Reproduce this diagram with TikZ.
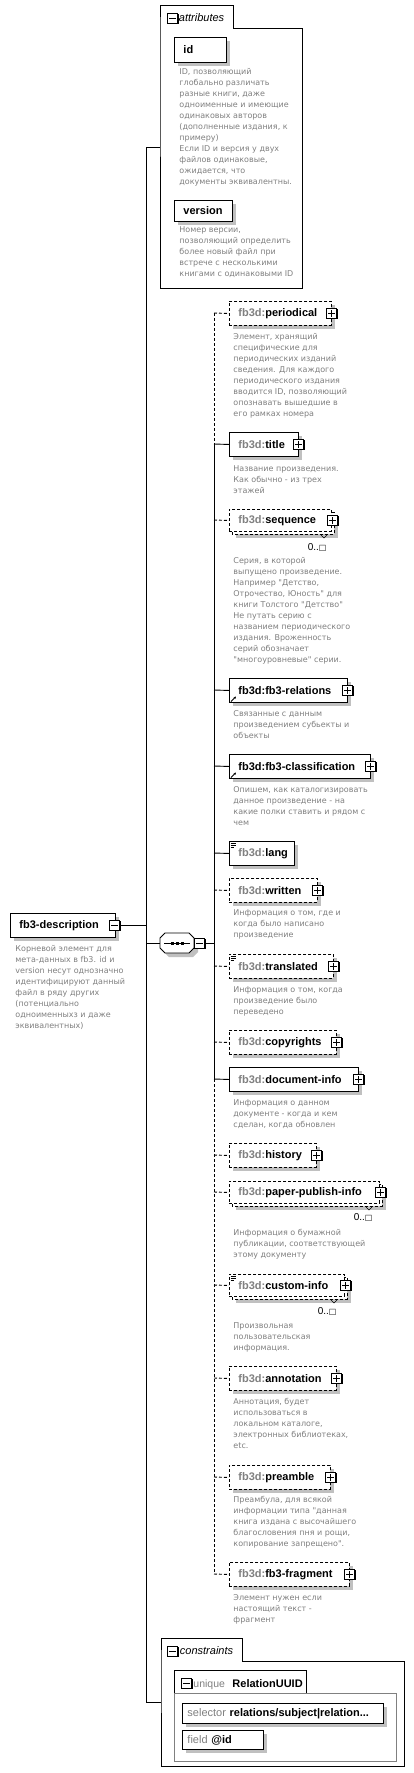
\documentclass[tikz,border=0pt]{standalone}
\usepackage{fontspec}
\setmainfont{Liberation Sans}
\newfontfamily\descfont{DejaVu Sans}
\usetikzlibrary{arrows.meta}
\definecolor{desccol}{RGB}{128,128,128}
\definecolor{shadcol}{RGB}{192,192,192}
\definecolor{precol}{RGB}{128,128,128}
\definecolor{grpcol}{RGB}{128,128,128}
\newcommand\pfx[2]{\mbox{\textcolor{precol}{#1}#2}}
\newcommand\infsym{{\descfont\fontsize{8}{8}\selectfont □}}
\tikzset{
  shadowed/.style={preaction={draw=none, fill=shadcol, transform canvas={shift={(4pt,-4pt)}}}},
  ebox/.style={draw, fill=white, line width=0.9pt, anchor=north west, minimum height=24pt,
    inner xsep=9pt, inner ysep=0pt, font=\fontsize{11}{13}\selectfont\bfseries},
  opt/.style={dash pattern=on 3pt off 2pt},
  pbox/.style={draw, fill=white, line width=0.9pt, minimum size=10pt, inner sep=0pt,
    preaction={fill=black, transform canvas={shift={(1pt,-1pt)}}},
    path picture={\draw[line width=0.9pt] (path picture bounding box.center) ++(-3.5pt,0pt) -- ++(7pt,0pt)
      (path picture bounding box.center) ++(0pt,-3.5pt) -- ++(0pt,7pt);}},
  mbox/.style={draw, fill=white, line width=0.9pt, minimum size=10pt, inner sep=0pt,
    preaction={fill=black, transform canvas={shift={(1pt,-1pt)}}},
    path picture={\draw[line width=0.9pt] (path picture bounding box.center) ++(-3.5pt,0pt) -- ++(7pt,0pt);}},
  desc/.style={font=\descfont\fontsize{8}{11}\selectfont, text=desccol, align=left, anchor=north west,
    inner sep=0pt, execute at begin node={\rule{0pt}{8pt}}},
  ital/.style={font=\fontsize{11}{13}\selectfont\itshape, inner sep=0pt, anchor=west},
  occ/.style={font=\fontsize{10}{12}\selectfont, inner sep=0pt, anchor=east},
  refic/.style={-{Stealth[length=2.5pt,width=2.5pt]}, line width=0.8pt},
  lstic/.style={line width=0.6pt},
  conn/.style={line width=0.9pt},
}
\begin{document}
\begin{tikzpicture}[x=1pt,y=-1pt,line width=0.9pt]
\useasboundingbox (0,0) rectangle (414,1773);
\fill[white] (0,0) rectangle (414,1773);

% ---------- attributes group ----------
\draw[fill=white, line width=0.8pt] (160,28) -- (160,5) -- (233,5) -- (233,28) -- (302,28) -- (302,288) -- (160,288) -- cycle;
\node[mbox] (attr-m) at (172.5,18) {};
\node[ital] (attr-t) at (178.5,17.5) {attributes};
\coordinate (attr-in) at (160,147);

\node[ebox, shadowed, text width=34pt, minimum height=25pt] (id) at (174,37) {id};
\node[desc] (id-d) at (179,68) {ID, позволяющий\\глобально различать\\разные книги, даже\\одноименные и имеющие\\одинаковых авторов\\(дополненные издания, к\\примеру)\\Если ID и версия у двух\\файлов одинаковые,\\ожидается, что\\документы эквивалентны.};
\node[ebox, shadowed, text width=40pt, minimum height=21pt] (version) at (174,200) {version};
\node[desc] (version-d) at (179,226) {Номер версии,\\позволяющий определить\\более новый файл при\\встрече с несколькими\\книгами с одинаковыми ID};

% ---------- root ----------
\node[ebox, shadowed, text width=87pt] (root) at (10,913) {fb3-description};
\node[mbox] (root-m) at (114.5,925) {};
\node[desc] (root-d) at (15,945) {Корневой элемент для\\мета-данных в fb3. id и\\version несут однозначно\\идентифицируют данный\\файл в ряду других\\(потенциально\\одноименныхз и даже\\эквивалентных)};

\coordinate (a-top) at (146,147);
\coordinate (a-root) at (146,925);
\coordinate (a-seq) at (146,943);
\coordinate (a-bot) at (146,1702);
\draw[conn] (a-top) -- (a-bot);
\draw[conn] (a-top) -- (attr-in);
\draw[conn] (root-m.east) -- (a-root);

% ---------- sequence compositor ----------
\fill[shadcol] (164,942) -- (169,937) -- (193,937) -- (198,942) -- (198,952) -- (193,957) -- (169,957) -- (164,952) -- cycle;
\draw[fill=white, line width=0.8pt] (160,938) -- (165,933) -- (189,933) -- (194,938) -- (194,948) -- (189,953) -- (165,953) -- (160,948) -- cycle;
\node[minimum width=34pt, minimum height=20pt, inner sep=0pt] (comp) at (177,943) {};
\draw[line width=0.8pt] (164,943) -- (190,943);
\fill (170.5,941.5) rectangle (173.5,944.5);
\fill (175.5,941.5) rectangle (178.5,944.5);
\fill (180.5,941.5) rectangle (183.5,944.5);
\node[mbox] (comp-m) at (199.5,943) {};
\draw[conn] (a-seq) -- (comp.west);
\coordinate (t-seq) at (214,943);
\draw[conn] (comp-m.east) -- (t-seq);

% ---------- trunk coordinates ----------
\coordinate (t-per) at (214,313);
\coordinate (t-tit) at (214,444);
\coordinate (t-sq) at (214,520);
\coordinate (t-rel) at (214,690);
\coordinate (t-cls) at (214,766);
\coordinate (t-lng) at (214,853);
\coordinate (t-wri) at (214,890);
\coordinate (t-tra) at (214,966);
\coordinate (t-cop) at (214,1042);
\coordinate (t-doc) at (214,1079);
\coordinate (t-his) at (214,1155);
\coordinate (t-pap) at (214,1192);
\coordinate (t-cus) at (214,1285);
\coordinate (t-ann) at (214,1378);
\coordinate (t-pre) at (214,1477);
\coordinate (t-fra) at (214,1574);
\draw[conn, opt] (t-per) -- (t-tit);
\draw[conn] (t-tit) -- (t-doc);
\draw[conn, opt] (t-doc) -- (t-fra);

% ---------- children ----------
% periodical
\node[ebox, shadowed, opt, text width=84pt] (per) at (229,301) {\pfx{fb3d:}{periodical}};
\node[pbox] (per-p) at (per.east) {};
\draw[conn, opt] (t-per) -- (per.west);
\node[desc] (per-d) at (233,333) {Элемент, хранящий\\специфические для\\периодических изданий\\сведения. Для каждого\\периодического издания\\вводится ID, позволяющий\\опознавать вышедшие в\\его рамках номера};

% title
\node[ebox, shadowed, text width=51pt] (tit) at (229,432) {\pfx{fb3d:}{title}};
\node[pbox] (tit-p) at (tit.east) {};
\draw[conn] (t-tit) -- (tit.west);
\node[desc] (tit-d) at (233,465) {Название произведения.\\Как обычно - из трех\\этажей};

% sequence (multiple)
\draw[opt, fill=white, line width=0.9pt, shadowed] (232,512) rectangle (334,534);
\node[ebox, opt, minimum height=22pt, text width=84pt] (sq) at (229,509) {\pfx{fb3d:}{sequence}};
\node[pbox] (sq-p) at ([xshift=1pt]sq.east) {};
\draw[line width=0.5pt] (321,535) -- (324,538) -- (327,535);
\node[occ] (sq-n) at (327,547) {0..\infsym};
\draw[conn, opt] (t-sq) -- (sq.west);
\node[desc] (sq-d) at (233,557) {Серия, в которой\\выпущено произведение.\\Например "Детство,\\Отрочество, Юность" для\\книги Толстого "Детство"\\Не путать серию с\\названием периодического\\издания. Вроженность\\серий обозначает\\"многоуровневые" серии.};

% fb3-relations
\node[ebox, shadowed, text width=100pt] (rel) at (229,678) {\mbox{fb3d:fb3-relations}};
\node[pbox] (rel-p) at (rel.east) {};
\draw[refic] (231,701.5) -- (236,696.5);
\draw[conn] (t-rel) -- (rel.west);
\node[desc] (rel-d) at (233,710) {Связанные с данным\\произведением субьекты и\\объекты};

% fb3-classification
\node[ebox, shadowed, text width=123pt] (cls) at (229,754) {\mbox{fb3d:fb3-classification}};
\node[pbox] (cls-p) at (cls.east) {};
\draw[refic] (231,777.5) -- (236,772.5);
\draw[conn] (t-cls) -- (cls.west);
\node[desc] (cls-d) at (233,786) {Опишем, как каталогизировать\\данное произведение - на\\какие полки ставить и рядом с\\чем};

% lang
\node[ebox, shadowed, text width=47pt] (lng) at (229,841) {\pfx{fb3d:}{lang}};
\draw[lstic] (230.5,843.5) -- (236,843.5) (230.5,845.3) -- (236,845.3) (230.5,847.1) -- (234,847.1);
\draw[conn] (t-lng) -- (lng.west);

% written
\node[ebox, shadowed, opt, text width=70pt] (wri) at (229,878) {\pfx{fb3d:}{written}};
\node[pbox] (wri-p) at (wri.east) {};
\draw[conn, opt] (t-wri) -- (wri.west);
\node[desc] (wri-d) at (233,909) {Информация о том, где и\\когда было написано\\произведение};

% translated
\node[ebox, shadowed, opt, text width=86pt] (tra) at (229,954) {\pfx{fb3d:}{translated}};
\node[pbox] (tra-p) at (tra.east) {};
\draw[lstic] (230.5,956.5) -- (236,956.5) (230.5,958.3) -- (236,958.3) (230.5,960.1) -- (234,960.1);
\draw[conn, opt] (t-tra) -- (tra.west);
\node[desc] (tra-d) at (233,986) {Информация о том, когда\\произведение было\\переведено};

% copyrights
\node[ebox, shadowed, opt, text width=89pt] (cop) at (229,1030) {\pfx{fb3d:}{copyrights}};
\node[pbox] (cop-p) at (cop.east) {};
\draw[conn, opt] (t-cop) -- (cop.west);

% document-info
\node[ebox, shadowed, text width=111pt] (doc) at (229,1067) {\pfx{fb3d:}{document-info}};
\node[pbox] (doc-p) at (doc.east) {};
\draw[conn] (t-doc) -- (doc.west);
\node[desc] (doc-d) at (233,1099) {Информация о данном\\документе - когда и кем\\сделан, когда обновлен};

% history
\node[ebox, shadowed, opt, text width=69pt] (his) at (229,1143) {\pfx{fb3d:}{history}};
\node[pbox] (his-p) at (his.east) {};
\draw[conn, opt] (t-his) -- (his.west);

% paper-publish-info (multiple)
\draw[opt, fill=white, line width=0.9pt, shadowed] (232,1184) rectangle (382,1206);
\node[ebox, opt, minimum height=22pt, text width=132pt] (pap) at (229,1181) {\pfx{fb3d:}{paper-publish-info}};
\node[pbox] (pap-p) at ([xshift=1pt]pap.east) {};
\draw[line width=0.5pt] (366,1207) -- (369,1210) -- (372,1207);
\node[occ] (pap-n) at (373,1217) {0..\infsym};
\draw[conn, opt] (t-pap) -- (pap.west);
\node[desc] (pap-d) at (233,1229) {Информация о бумажной\\публикации, соответствующей\\этому документу};

% custom-info (multiple)
\draw[opt, fill=white, line width=0.9pt, shadowed] (232,1277) rectangle (347,1299);
\node[ebox, opt, minimum height=22pt, text width=97pt] (cus) at (229,1274) {\pfx{fb3d:}{custom-info}};
\node[pbox] (cus-p) at ([xshift=1pt]cus.east) {};
\draw[lstic] (230.5,1276.5) -- (236,1276.5) (230.5,1278.3) -- (236,1278.3) (230.5,1280.1) -- (234,1280.1);
\draw[line width=0.5pt] (331,1300) -- (334,1303) -- (337,1300);
\node[occ] (cus-n) at (337,1311) {0..\infsym};
\draw[conn, opt] (t-cus) -- (cus.west);
\node[desc] (cus-d) at (233,1322) {Произвольная\\пользовательская\\информация.};

% annotation
\node[ebox, shadowed, opt, text width=89pt] (ann) at (229,1366) {\pfx{fb3d:}{annotation}};
\node[pbox] (ann-p) at (ann.east) {};
\draw[conn, opt] (t-ann) -- (ann.west);
\node[desc] (ann-d) at (233,1398) {Аннотация, будет\\использоваться в\\локальном каталоге,\\электронных библиотеках,\\etc.};

% preamble
\node[ebox, shadowed, opt, text width=83pt] (pre) at (229,1465) {\pfx{fb3d:}{preamble}};
\node[pbox] (pre-p) at (pre.east) {};
\draw[conn, opt] (t-pre) -- (pre.west);
\node[desc] (pre-d) at (233,1496) {Преамбула, для всякой\\информации типа "данная\\книга издана с высочайшего\\благословения пня и рощи,\\копирование запрещено".};

% fb3-fragment
\node[ebox, shadowed, opt, text width=102pt] (fra) at (229,1562) {\pfx{fb3d:}{fb3-fragment}};
\node[pbox] (fra-p) at (fra.east) {};
\draw[conn, opt] (t-fra) -- (fra.west);
\node[desc] (fra-d) at (233,1594) {Элемент нужен если\\настоящий текст -\\фрагмент};

% ---------- constraints ----------
\draw[fill=white, line width=0.8pt] (161,1661) -- (161,1638) -- (242,1638) -- (242,1661) -- (404,1661) -- (404,1766) -- (161,1766) -- cycle;
\coordinate (cons-in) at (161,1702);
\draw[conn] (a-bot) -- (cons-in);
\node[mbox] (cons-m) at (172.5,1651) {};
\node[ital] (cons-t) at (179.5,1651) {constraints};

\draw[grpcol, line width=0.8pt] (174,1693) rectangle (396,1761);
\draw[fill=white, line width=0.8pt] (174,1693) -- (174,1670) -- (306,1670) -- (306,1693);
\node[mbox] (uni-m) at (186.5,1683) {};
\node[inner sep=0pt, anchor=base west, font=\fontsize{10.5}{12}\selectfont, text=desccol] (uni-k) at (193,1687) {unique};
\node[inner sep=0pt, anchor=base west, font=\fontsize{11}{13}\selectfont\bfseries] (uni-n) at (232,1687) {RelationUUID};

\node[ebox, shadowed, minimum height=20pt, inner xsep=5pt, text width=191pt, font=\fontsize{11}{13}\selectfont] (sel) at (182,1703) {\mbox{\textcolor{desccol}{selector} \textbf{relations/subject|relation...}}};
\node[ebox, shadowed, minimum height=19pt, inner xsep=5pt, text width=71pt, font=\fontsize{11}{13}\selectfont] (fld) at (182,1730) {\mbox{\textcolor{desccol}{field} \textbf{@id}}};
\end{tikzpicture}
\end{document}
